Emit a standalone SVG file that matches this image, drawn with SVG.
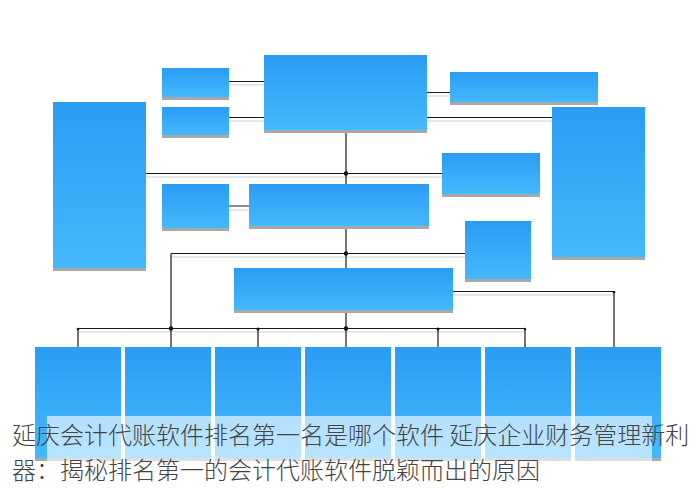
<svg xmlns="http://www.w3.org/2000/svg" width="700" height="488" viewBox="0 0 700 488">
<defs>
<linearGradient id="g" x1="0" y1="0" x2="0" y2="1">
<stop offset="0" stop-color="#2a9cf4"/>
<stop offset="1" stop-color="#44b9fc"/>
</linearGradient>
<style>
.b{fill:url(#g)}
.s{fill:#a8a8a8}
.l{stroke:#1a1a1a;stroke-width:1.2;fill:none}
.h{stroke:#cfcfcf;stroke-width:1.2;fill:none}
.d{fill:#111}
.t{font-family:"Noto Sans CJK SC","Noto Sans",sans-serif;font-size:24px;font-weight:300;fill:#444}
</style>
</defs>
<rect width="700" height="488" fill="#fff"/>
<g id="connectors">
<path class="h" d="M229 85H264M229 121H264M427 96H450M427 121H552M146 177H442M229 210H249M171 257H465M78 332H525M453 295H614"/>
<path class="l" d="M229 81.5H264M229 117.5H264M427 92.5H450M427 117.5H552M146 173.5H442M229 206H249M171 253.5H465M171 253.5V347M346 130V347M78 328.5H525M78 328.5V347M258 328.5V347M438 328.5V347M525 328.5V347M453 291.5H614V347"/>
<circle class="d" cx="346" cy="173.5" r="2.2"/>
<circle class="d" cx="346" cy="253.5" r="2.2"/>
<circle class="d" cx="346" cy="328.5" r="2.2"/>
<circle class="d" cx="171" cy="328.5" r="2.2"/>
<circle class="d" cx="258" cy="329" r="1.5"/>
<circle class="d" cx="438" cy="329" r="1.5"/>
<circle class="d" cx="614" cy="292" r="1.3"/>
<circle class="d" cx="525" cy="329" r="1.3"/>
<circle class="d" cx="78" cy="329" r="1.3"/>
</g>
<g id="n-left"><rect class="s" x="53" y="105" width="93" height="166"/><rect class="b" x="53" y="102" width="93" height="166"/></g>
<g id="n-sb1"><rect class="s" x="162" y="71" width="67" height="29"/><rect class="b" x="162" y="68" width="67" height="29"/></g>
<g id="n-sb2"><rect class="s" x="162" y="110" width="67" height="28"/><rect class="b" x="162" y="107" width="67" height="28"/></g>
<g id="n-top"><rect class="s" x="264" y="58" width="163" height="75"/><rect class="b" x="264" y="55" width="163" height="75"/></g>
<g id="n-righttop"><rect class="s" x="450" y="75" width="148" height="30"/><rect class="b" x="450" y="72" width="148" height="30"/></g>
<g id="n-righttall"><rect class="s" x="552" y="110" width="93" height="150"/><rect class="b" x="552" y="107" width="93" height="150"/></g>
<g id="n-rightmid"><rect class="s" x="442" y="156" width="98" height="41"/><rect class="b" x="442" y="153" width="98" height="41"/></g>
<g id="n-sb3"><rect class="s" x="162" y="187" width="67" height="44"/><rect class="b" x="162" y="184" width="67" height="44"/></g>
<g id="n-mid"><rect class="s" x="249" y="187" width="180" height="42"/><rect class="b" x="249" y="184" width="180" height="42"/></g>
<g id="n-square"><rect class="s" x="465" y="224" width="66" height="58"/><rect class="b" x="465" y="221" width="66" height="58"/></g>
<g id="n-botmid"><rect class="s" x="234" y="271" width="219" height="42"/><rect class="b" x="234" y="268" width="219" height="42"/></g>
<g id="n-b1"><rect class="s" x="35" y="350" width="86" height="111"/><rect class="b" x="35" y="347" width="86" height="111"/></g>
<g id="n-b2"><rect class="s" x="125" y="350" width="86" height="111"/><rect class="b" x="125" y="347" width="86" height="111"/></g>
<g id="n-b3"><rect class="s" x="215" y="350" width="86" height="111"/><rect class="b" x="215" y="347" width="86" height="111"/></g>
<g id="n-b4"><rect class="s" x="305" y="350" width="86" height="111"/><rect class="b" x="305" y="347" width="86" height="111"/></g>
<g id="n-b5"><rect class="s" x="395" y="350" width="86" height="111"/><rect class="b" x="395" y="347" width="86" height="111"/></g>
<g id="n-b6"><rect class="s" x="485" y="350" width="86" height="111"/><rect class="b" x="485" y="347" width="86" height="111"/></g>
<g id="n-b7"><rect class="s" x="575" y="350" width="86" height="111"/><rect class="b" x="575" y="347" width="86" height="111"/></g>
<g id="caption">
<rect x="47" y="416" width="605" height="45" fill="#fff" fill-opacity="0.62"/>
<text class="t" x="12" y="444">延庆会计代账软件排名第一名是哪个软件 延庆企业财务管理新利</text>
<text class="t" x="12" y="479">器：揭秘排名第一的会计代账软件脱颖而出的原因</text>
</g>
</svg>
